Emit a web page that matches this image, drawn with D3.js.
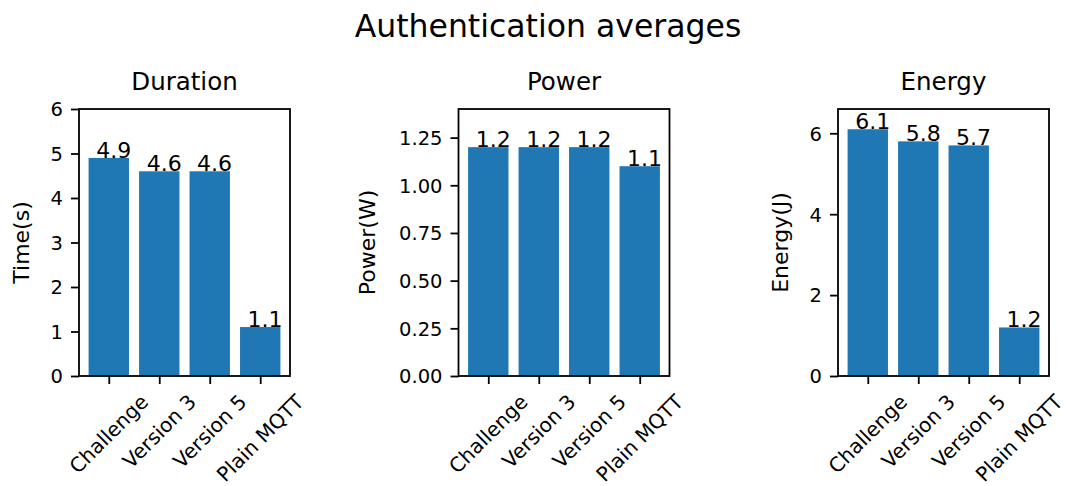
<!DOCTYPE html>
<html>
<head>
<meta charset="utf-8">
<script src="https://cdn.jsdelivr.net/npm/d3@7"></script>
<style>
  body { margin: 0; background: #fff; }
  text { font-family: "DejaVu Sans", sans-serif; fill: #000; }
</style>
</head>
<body>
<div id="chart"></div>
<script>
// data
const categories = ['Challenge', 'Version 3', 'Version 5', 'Plain MQTT'];
const durationValues = [4.9, 4.6, 4.6, 1.1];
const powerValues = [1.2, 1.2, 1.2, 1.1];
const energyValues = [6.1, 5.8, 5.7, 1.2];
const panelTitles = ['Duration', 'Power', 'Energy'];
const yLabels = ['Time(s)', 'Power(W)', 'Energy(J)'];
const yMax = [6, 1.4, 6.6];
const yTicks = [
    [0, 1, 2, 3, 4, 5, 6],
    [0, 0.25, 0.5, 0.75, 1.0, 1.25],
    [0, 2, 4, 6]
];
const yTickFormat = [d3.format('d'), d3.format('.2f'), d3.format('d')];

const width = 1068, height = 486;
const panelLeft = [79, 458.5, 838];
const panelW = 211;
const plotTop = 109, plotBottom = 376;
const yLabelOffset = [50.5, 84, 50.5];
const tickLen = 8, tickPad = 8;
const tickFont = 19.5;
const catFont = 20.2;

const svg = d3.select('#chart').append('svg')
    .attr('width', width)
    .attr('height', height);

svg.append('text')
    .attr('x', 548).attr('y', 37)
    .attr('text-anchor', 'middle')
    .style('font-size', '31.5px')
    .text('Authentication averages');

const series = [durationValues, powerValues, energyValues];

series.forEach((values, p) => {
    const left = panelLeft[p];
    let x = d3.scaleLinear().domain([-0.59, 3.59]).range([left, left + panelW]);
    let y = d3.scaleLinear().domain([0, yMax[p]]).range([plotBottom, plotTop]);

    let g = svg.append('g');

    // bars
    g.selectAll('rect.bar').data(values).enter()
        .append('rect')
        .attr('class', 'bar')
        .attr('x', (d, i) => x(i - 0.4))
        .attr('width', (d, i) => x(i + 0.4) - x(i - 0.4))
        .attr('y', d => y(d))
        .attr('height', d => y(0) - y(d))
        .attr('fill', '#1f77b4');

    // bar labels
    g.selectAll('text.val').data(values).enter()
        .append('text')
        .attr('class', 'val')
        .attr('x', (d, i) => x(i - 0.25))
        .attr('y', d => y(d))
        .style('font-size', '22px')
        .text(d => d.toFixed(1));

    // y axis
    let yAxis = d3.axisLeft(y)
        .tickValues(yTicks[p])
        .tickFormat(yTickFormat[p])
        .tickSize(tickLen)
        .tickPadding(tickPad);
    let ya = g.append('g')
        .attr('transform', `translate(${left},0)`)
        .call(yAxis);
    ya.select('.domain').remove();
    ya.selectAll('line').attr('stroke', '#000').attr('stroke-width', 1.8);
    ya.selectAll('text')
        .attr('dy', '0.35em')
        .style('font-size', tickFont + 'px')
        .style('font-family', '"DejaVu Sans", sans-serif');

    // x axis ticks
    let xAxis = d3.axisBottom(x)
        .tickValues(d3.range(categories.length))
        .tickFormat('')
        .tickSize(tickLen);
    let xa = g.append('g')
        .attr('transform', `translate(0,${plotBottom})`)
        .call(xAxis);
    xa.select('.domain').remove();
    xa.selectAll('line').attr('stroke', '#000').attr('stroke-width', 1.8);

    // rotated category labels, bbox centred under tick (matplotlib style)
    let labTop = plotBottom + tickLen + 6;
    categories.forEach((c, i) => {
        let t = g.append('text')
            .attr('text-anchor', 'middle')
            .attr('dy', '0.346em')
            .style('font-size', catFont + 'px')
            .text(c);
        let w = t.node().getComputedTextLength();
        let h = catFont * 1.164;
        let half = (w + h) * Math.SQRT1_2 / 2;
        t.attr('transform', `translate(${x(i)},${labTop + half}) rotate(-45)`);
    });

    // frame
    g.append('rect')
        .attr('x', left).attr('y', plotTop)
        .attr('width', panelW).attr('height', plotBottom - plotTop)
        .attr('fill', 'none')
        .attr('stroke', '#000')
        .attr('stroke-width', 1.8);

    // titles
    g.append('text')
        .attr('x', left + panelW / 2).attr('y', 90)
        .attr('text-anchor', 'middle')
        .style('font-size', '24.5px')
        .text(panelTitles[p]);

    g.append('text')
        .attr('transform', `translate(${left - yLabelOffset[p]},${(plotTop + plotBottom) / 2}) rotate(-90)`)
        .attr('text-anchor', 'middle')
        .style('font-size', '22px')
        .text(yLabels[p]);
});
</script>
</body>
</html>
